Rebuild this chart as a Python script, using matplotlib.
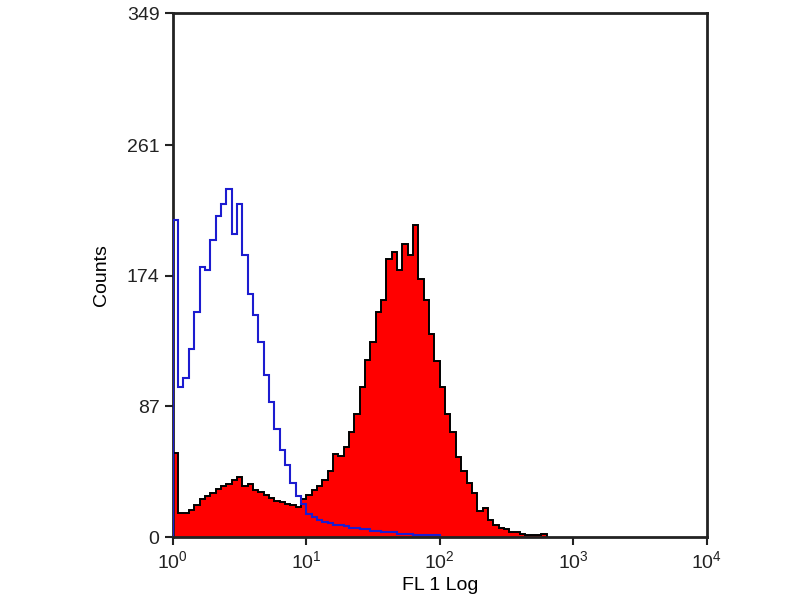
import matplotlib.pyplot as plt
import numpy as np

# FL1 log channels: bins of 0.04 decade starting at 10^0
bin_step = 0.04

stained = [56, 16, 16, 18, 21, 25, 27, 29, 32, 34,
           35, 38, 40, 34, 35, 31, 30, 28, 26, 24,
           23, 22, 21, 20, 25, 28, 31, 34, 38, 44,
           55, 54, 60, 70, 82, 100, 118, 130, 150, 158,
           185, 190, 178, 195, 188, 208, 172, 158, 135, 117,
           100, 82, 70, 53, 44, 36, 29, 17, 19, 11,
           8, 6, 5, 3, 3, 2, 1, 1, 1, 2]

isotype = [211, 100, 106, 125, 150, 180, 178, 198, 214, 222,
           232, 202, 222, 188, 162, 148, 130, 108, 90, 72,
           58, 48, 36, 27, 22, 15, 13, 11, 10, 9,
           8, 8, 7, 6, 6, 5, 5, 4, 4, 3,
           3, 3, 2, 2, 2, 1, 1, 1, 1, 1]

y_ticks = [0, 87, 174, 261, 349]
x_ticks = [1, 10, 100, 1000, 10000]
x_labels = ['$10^0$', '$10^1$', '$10^2$', '$10^3$', '$10^4$']

plt.rcParams['font.family'] = ['Liberation Sans', 'DejaVu Sans']
plt.rcParams['mathtext.fontset'] = 'custom'
plt.rcParams['mathtext.rm'] = 'Liberation Sans'


def log_edges(n):
    return 10 ** (np.arange(n + 1) * bin_step)


fig = plt.figure(figsize=(8, 6), dpi=100)
ax = fig.add_axes([0.216, 0.105, 0.6675, 0.873])

ax.stairs(stained, log_edges(len(stained)), fill=True, color='red', zorder=2)
ax.stairs(stained, log_edges(len(stained)), color='black', lw=1.4, zorder=3)
ax.stairs(isotype, log_edges(len(isotype)), color='#1c1cd0', lw=1.5, zorder=4)

ax.set_xscale('log')
ax.set_xlim(1, 10000)
ax.set_ylim(0, 349)
ax.set_xticks(x_ticks)
ax.set_xticklabels(x_labels)
ax.minorticks_off()
ax.set_yticks(y_ticks)

for s in ax.spines.values():
    s.set_linewidth(2)
    s.set_color('#222222')
ax.spines['bottom'].set_zorder(5)
ax.tick_params(direction='out', length=6, width=1.5, labelsize=14, colors='#222222')

ax.set_xlabel('FL 1 Log', fontsize=14, labelpad=3)
ax.set_ylabel('Counts', fontsize=14, labelpad=12)

plt.savefig('out.png', dpi=100)
